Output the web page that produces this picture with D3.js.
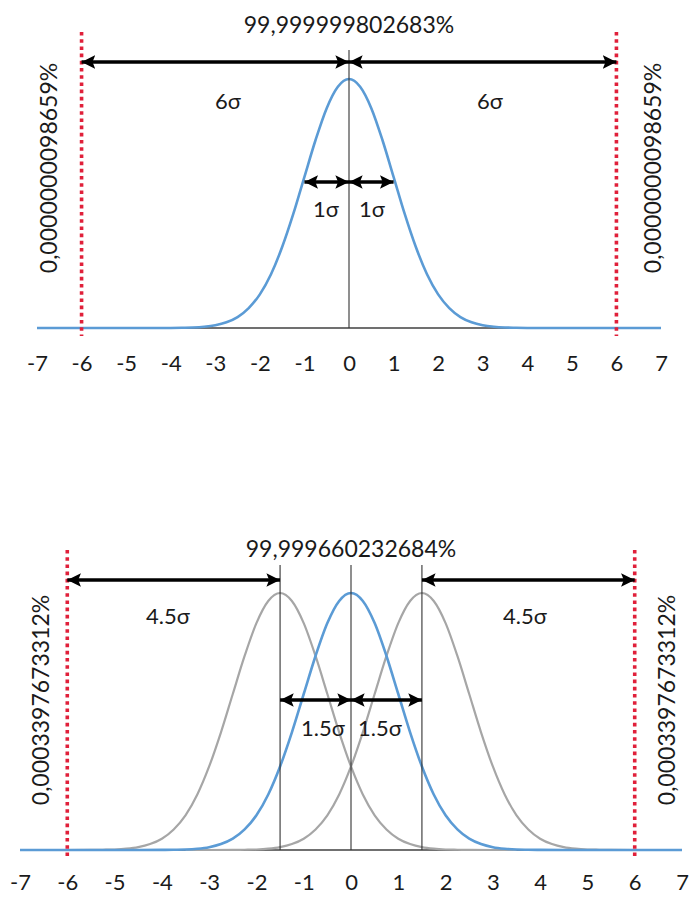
<!DOCTYPE html>
<html>
<head>
<meta charset="utf-8">
<script src="https://cdn.jsdelivr.net/npm/d3@7"></script>
<style>
  html, body { margin: 0; padding: 0; background: #fff; }
  svg text { font-family: Lato, "Open Sans", "DejaVu Sans", sans-serif; fill: #1a1a1a; }
</style>
</head>
<body>
<div id="chart"></div>
<script>
// bell shape: relative height vs. distance from the mean (in sigma)
const bellOffsets = [0, 0.25, 0.5, 0.75, 1, 1.25, 1.5, 1.75, 2, 2.25, 2.5, 2.75, 3, 3.25, 3.5, 3.75, 4, 4.5, 5];
const bellHeights = [1, 0.969, 0.883, 0.755, 0.607, 0.458, 0.325, 0.216, 0.135, 0.080, 0.044, 0.023, 0.011, 0.005, 0.002, 0.001, 0.0003, 0, 0];

const xTicks = [-7, -6, -5, -4, -3, -2, -1, 0, 1, 2, 3, 4, 5, 6, 7];

// panel 1 : centred process
const topMeans = [0];
const topShifted = [];
const topLimits = [-6, 6];
const topYield = '99,999999802683%';
const topTail = '0,0000000098659%';
const topOuterSpans = [[-6, 0], [0, 6]];
const topOuterLabels = ['6σ', '6σ'];
const topInnerSpans = [[-1, 0], [0, 1]];
const topInnerLabels = ['1σ', '1σ'];

// panel 2 : process shifted by 1.5 sigma
const botMeans = [0];
const botShifted = [-1.5, 1.5];
const botLimits = [-6, 6];
const botYield = '99,999660232684%';
const botTail = '0,0003397673312%';
const botOuterSpans = [[-6, -1.5], [1.5, 6]];
const botOuterLabels = ['4.5σ', '4.5σ'];
const botInnerSpans = [[-1.5, 0], [0, 1.5]];
const botInnerLabels = ['1.5σ', '1.5σ'];

const W = 695, H = 897;
const BLUE = '#5b9bd5', GREY = '#a6a6a6', RED = '#e0203a';

const svg = d3.select('#chart').append('svg')
  .attr('width', W).attr('height', H);

const defs = svg.append('defs');
defs.append('marker')
  .attr('id', 'head')
  .attr('viewBox', '0 0 10 10')
  .attr('refX', 10).attr('refY', 5)
  .attr('markerWidth', 4.0).attr('markerHeight', 3.9)
  .attr('markerUnits', 'strokeWidth')
  .attr('orient', 'auto-start-reverse')
  .append('path').attr('d', 'M0,0L10,5L0,10L2,5Z').attr('fill', '#000');

function bellPoints(mean, full) {
  const pts = [];
  for (let i = bellOffsets.length - 1; i > 0; i--) pts.push([mean - bellOffsets[i], bellHeights[i]]);
  for (let i = 0; i < bellOffsets.length; i++) pts.push([mean + bellOffsets[i], bellHeights[i]]);
  let out = pts.filter(p => p[0] >= -7 && p[0] <= 7);
  if (full) {
    if (out[0][0] > -7) out.unshift([-7, 0]);
    if (out[out.length - 1][0] < 7) out.push([7, 0]);
  }
  return out;
}

function panel(cfg) {
  const x = d3.scaleLinear().domain([-7, 7]).range(cfg.xRange);
  const y = d3.scaleLinear().domain([0, 1]).range(cfg.yRange);
  const g = svg.append('g');
  const line = d3.line().x(d => x(d[0])).y(d => y(d[1])).curve(d3.curveMonotoneX);

  // axis line
  g.append('line')
    .attr('x1', x(-7)).attr('x2', x(7))
    .attr('y1', y(0)).attr('y2', y(0))
    .attr('stroke', '#404040').attr('stroke-width', 1.5);

  // shifted curves (grey)
  g.selectAll('path.shift').data(cfg.shifted).join('path')
    .attr('class', 'shift')
    .attr('d', m => line(bellPoints(m, false)))
    .attr('fill', 'none').attr('stroke', GREY).attr('stroke-width', 2.2);

  // centred curve (blue)
  g.selectAll('path.main').data(cfg.means).join('path')
    .attr('class', 'main')
    .attr('d', m => line(bellPoints(m, true)))
    .attr('fill', 'none').attr('stroke', BLUE).attr('stroke-width', 2.6);

  // vertical guide lines at every mean
  g.selectAll('line.guide').data(cfg.means.concat(cfg.shifted)).join('line')
    .attr('class', 'guide')
    .attr('x1', d => x(d)).attr('x2', d => x(d))
    .attr('y1', cfg.guideTop).attr('y2', y(0))
    .attr('stroke', '#333').attr('stroke-width', 1.1);

  // spec limits
  g.selectAll('line.limit').data(cfg.limits).join('line')
    .attr('class', 'limit')
    .attr('x1', d => x(d)).attr('x2', d => x(d))
    .attr('y1', cfg.limitTop).attr('y2', y(0) + 8)
    .attr('stroke', RED).attr('stroke-width', 3.6)
    .attr('stroke-dasharray', '3.6 3.6');

  // arrows
  const arrow = (spans, yy) => g.append('g').selectAll('line').data(spans).join('line')
    .attr('x1', d => x(d[0])).attr('x2', d => x(d[1]))
    .attr('y1', yy).attr('y2', yy)
    .attr('stroke', '#000').attr('stroke-width', 3.5)
    .attr('marker-start', 'url(#head)').attr('marker-end', 'url(#head)');
  arrow(cfg.outerSpans, cfg.outerY);
  arrow(cfg.innerSpans, cfg.innerY);

  // span labels
  g.append('g').selectAll('text').data(cfg.outerLabels).join('text')
    .attr('x', (d, i) => cfg.outerLabelX[i]).attr('y', cfg.outerLabelY)
    .attr('text-anchor', 'middle').attr('dominant-baseline', 'central')
    .attr('font-size', 22).text(d => d);
  g.append('g').selectAll('text').data(cfg.innerLabels).join('text')
    .attr('x', (d, i) => cfg.innerLabelX[i]).attr('y', cfg.innerLabelY)
    .attr('text-anchor', 'middle').attr('dominant-baseline', 'central')
    .attr('font-size', 22).text(d => d);

  // yield text
  g.append('text')
    .attr('x', x(0)).attr('y', cfg.yieldY)
    .attr('text-anchor', 'middle').attr('dominant-baseline', 'central')
    .attr('font-size', 23).text(cfg.yieldText);

  // tail percentages, rotated
  g.selectAll('text.tail').data(cfg.tailX).join('text')
    .attr('class', 'tail')
    .attr('transform', d => `translate(${d},${cfg.tailY}) rotate(-90)`)
    .attr('text-anchor', 'middle').attr('dominant-baseline', 'central')
    .attr('font-size', 23).text(cfg.tailText);

  // tick labels
  const ax = g.append('g')
    .attr('transform', `translate(0,${y(0)})`)
    .call(d3.axisBottom(x).tickValues(xTicks).tickSize(0).tickPadding(cfg.tickPad)
      .tickFormat(d => String(d)));
  ax.select('.domain').remove();
  ax.selectAll('text').attr('font-size', 22).attr('font-family', 'Lato, "Open Sans", sans-serif').attr('fill', '#1a1a1a');
}

panel({
  xRange: [37, 661], yRange: [328, 79],
  means: topMeans, shifted: topShifted, limits: topLimits,
  guideTop: 50, limitTop: 32,
  outerSpans: topOuterSpans, outerY: 62, innerSpans: topInnerSpans, innerY: 182,
  outerLabels: topOuterLabels, outerLabelX: [228, 490], outerLabelY: 100,
  innerLabels: topInnerLabels, innerLabelX: [326, 372], innerLabelY: 208,
  yieldText: topYield, yieldY: 24,
  tailText: topTail, tailX: [48, 652], tailY: 168,
  tickPad: 27
});

panel({
  xRange: [20, 682], yRange: [850, 593],
  means: botMeans, shifted: botShifted, limits: botLimits,
  guideTop: 565, limitTop: 550,
  outerSpans: botOuterSpans, outerY: 580, innerSpans: botInnerSpans, innerY: 700,
  outerLabels: botOuterLabels, outerLabelX: [168, 525], outerLabelY: 615,
  innerLabels: botInnerLabels, innerLabelX: [323, 380], innerLabelY: 727,
  yieldText: botYield, yieldY: 548,
  tailText: botTail, tailX: [40, 666], tailY: 700,
  tickPad: 24
});
</script>
</body>
</html>
